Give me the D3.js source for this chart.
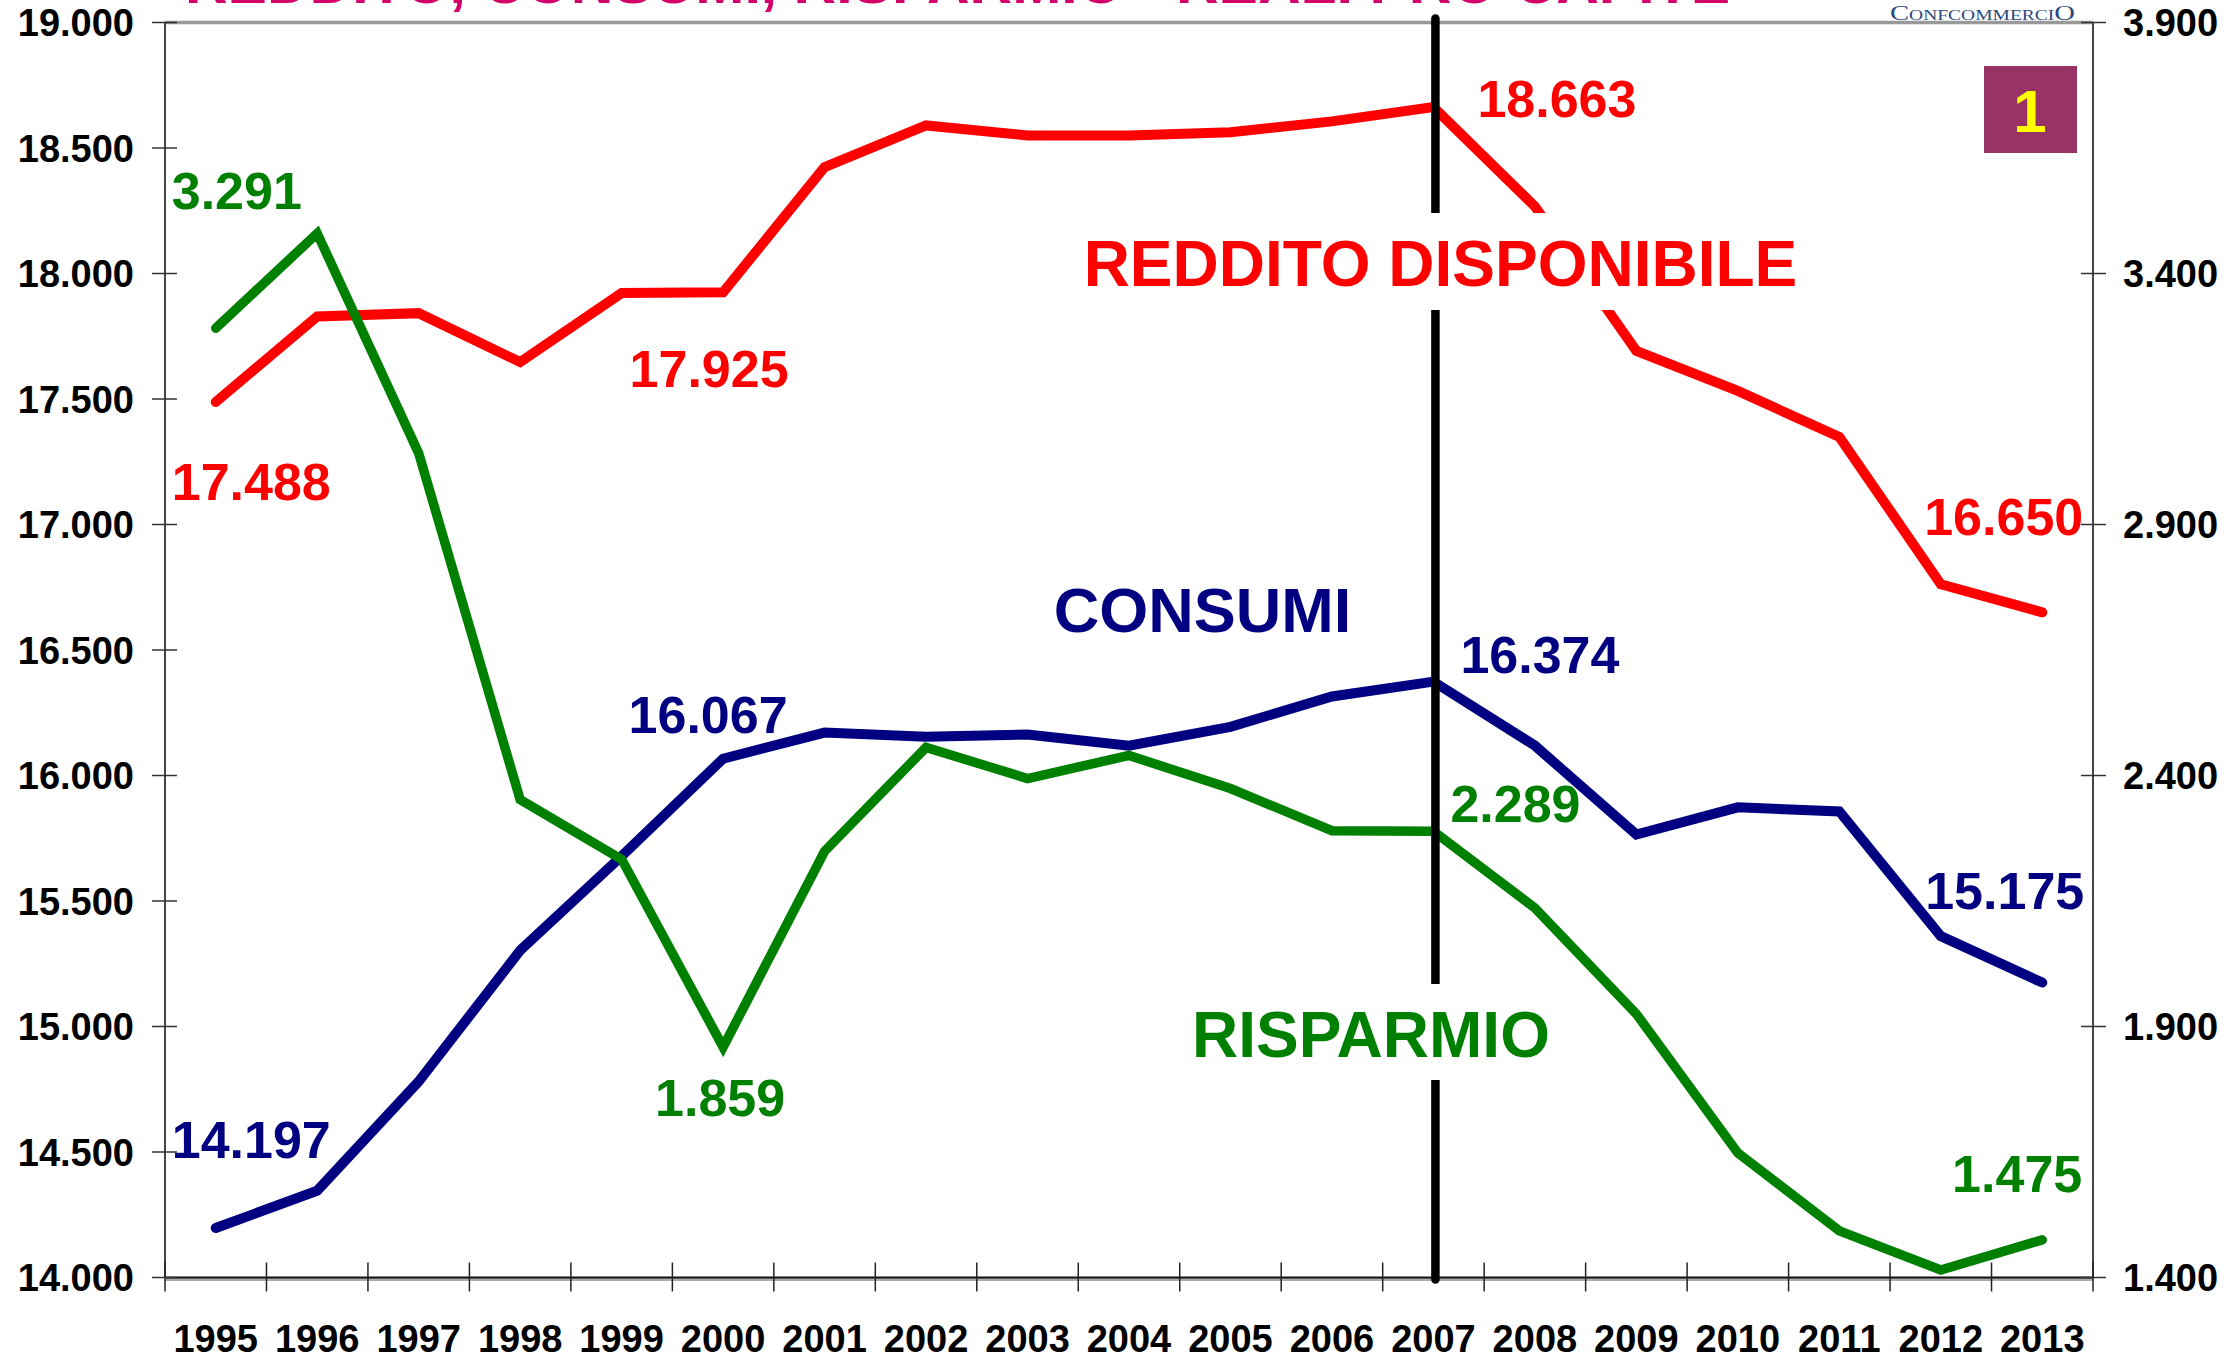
<!DOCTYPE html>
<html>
<head>
<meta charset="utf-8">
<script src="https://cdn.jsdelivr.net/npm/d3@7"></script>
<style>
  body { margin: 0; background: #fff; }
  text { font-family: "Liberation Sans", Arial, sans-serif; font-weight: bold; }
</style>
</head>
<body>
<svg id="chart" width="2234" height="1359"></svg>
<script>
// values (reddito/consumi on left axis, risparmio on right axis)
const years = ["1995", "1996", "1997", "1998", "1999", "2000", "2001", "2002", "2003", "2004",
  "2005", "2006", "2007", "2008", "2009", "2010", "2011", "2012", "2013"];
const reddito = [17488, 17829, 17842, 17647, 17922, 17925, 18424, 18590, 18550, 18550,
  18563, 18606, 18663, 18267, 17692, 17532, 17349, 16762, 16650];
const consumi = [14197, 14346, 14781, 15303, 15679, 16067, 16171, 16154, 16163, 16119,
  16194, 16315, 16374, 16119, 15765, 15873, 15857, 15360, 15175];
const risparmio = [3291, 3480, 3042, 2352, 2233, 1859, 2249, 2456, 2394, 2440,
  2374, 2290, 2289, 2136, 1925, 1648, 1493, 1415, 1475];
const leftTicks = [14000, 14500, 15000, 15500, 16000, 16500, 17000, 17500, 18000, 18500, 19000];
const rightTicks = [1400, 1900, 2400, 2900, 3400, 3900];

const it = d3.formatLocale({ decimal: ",", thousands: ".", grouping: [3], currency: ["€", ""] });
const fmt = it.format(",.0f");

const svg = d3.select("#chart");

let x = d3.scaleBand().domain(years).range([165, 2093]);
let xMid = (y) => x(y) + x.bandwidth() / 2;
let yL = d3.scaleLinear().domain([14000, 19000]).range([1277.5, 22.5]);
let yR = d3.scaleLinear().domain([1400, 3900]).range([1277.5, 22.5]);

// title, mostly cut off at the top of the slide
svg.append("text")
  .attr("x", 185).attr("y", 3)
  .attr("font-size", 59)
  .attr("fill", "#d4006a")
  .text("REDDITO, CONSUMI, RISPARMIO - REALI PRO CAPITE");

svg.append("text")
  .attr("x", 1890).attr("y", 20)
  .attr("textLength", 185)
  .attr("lengthAdjust", "spacingAndGlyphs")
  .style("font-family", "'Liberation Serif', serif")
  .style("font-weight", "normal")
  .style("font-variant", "small-caps")
  .attr("font-size", 22)
  .attr("fill", "#2c4a7c")
  .text("ConfcommerciO");

// frame
svg.append("line")
  .attr("x1", 165).attr("x2", 2093)
  .attr("y1", yL(19000)).attr("y2", yL(19000))
  .attr("stroke", "#999").attr("stroke-width", 3.5);
svg.append("line")
  .attr("x1", 165).attr("x2", 2093)
  .attr("y1", yL(14000) + 1.5).attr("y2", yL(14000) + 1.5)
  .attr("stroke", "#aaa").attr("stroke-width", 4);
svg.append("line")
  .attr("x1", 165).attr("x2", 2093)
  .attr("y1", yL(14000)).attr("y2", yL(14000))
  .attr("stroke", "#111").attr("stroke-width", 2);

[165, 2093].forEach((ax) => {
  svg.append("line")
    .attr("x1", ax).attr("x2", ax)
    .attr("y1", yL(19000)).attr("y2", yL(14000))
    .attr("stroke", "#444").attr("stroke-width", 2);
});

// left axis
svg.selectAll(".ltick").data(leftTicks).join("line")
  .attr("x1", 152).attr("x2", 177)
  .attr("y1", (d) => yL(d)).attr("y2", (d) => yL(d))
  .attr("stroke", "#333").attr("stroke-width", 1.5);
svg.selectAll(".llab").data(leftTicks).join("text")
  .attr("x", 134).attr("y", (d) => yL(d) + 13.5)
  .attr("text-anchor", "end")
  .attr("font-size", 38)
  .attr("fill", "#000")
  .text((d) => fmt(d));

// right axis
svg.selectAll(".rtick").data(rightTicks).join("line")
  .attr("x1", 2081).attr("x2", 2106)
  .attr("y1", (d) => yR(d)).attr("y2", (d) => yR(d))
  .attr("stroke", "#333").attr("stroke-width", 1.5);
svg.selectAll(".rlab").data(rightTicks).join("text")
  .attr("x", 2123).attr("y", (d) => yR(d) + 13.5)
  .attr("font-size", 38)
  .attr("fill", "#000")
  .text((d) => fmt(d));

// x axis: ticks on the band boundaries
let bounds = years.map((d) => x(d)).concat([x(years[years.length - 1]) + x.bandwidth()]);
svg.selectAll(".xtick").data(bounds).join("line")
  .attr("x1", (d) => d).attr("x2", (d) => d)
  .attr("y1", yL(14000) - 15).attr("y2", yL(14000) + 14)
  .attr("stroke", "#222").attr("stroke-width", 1.5);
svg.selectAll(".xlab").data(years).join("text")
  .attr("x", (d) => xMid(d)).attr("y", 1352)
  .attr("text-anchor", "middle")
  .attr("font-size", 38)
  .attr("fill", "#000")
  .text((d) => d);

// series
const series = [
  { values: reddito, scale: yL, color: "#ff0000", width: 10 },
  { values: consumi, scale: yL, color: "#000080", width: 10 },
  { values: risparmio, scale: yR, color: "#008000", width: 9.5 },
];
series.forEach((s) => {
  let line = d3.line()
    .x((d, i) => xMid(years[i]))
    .y((d) => s.scale(d));
  svg.append("path")
    .datum(s.values)
    .attr("d", line)
    .attr("fill", "none")
    .attr("stroke", s.color)
    .attr("stroke-width", s.width)
    .attr("stroke-linejoin", "miter")
    .attr("stroke-linecap", "round");
});

// 2007 marker
svg.append("line")
  .attr("x1", xMid("2007") + 2).attr("x2", xMid("2007") + 2)
  .attr("y1", yL(19000) - 4).attr("y2", yL(14000) + 2)
  .attr("stroke", "#000").attr("stroke-width", 8.5)
  .attr("stroke-linecap", "round");

// series names on white boxes
const names = [
  { text: "REDDITO DISPONIBILE", color: "#ff0000", cx: xMid("2007") + 7, base: yL(17950), size: 64, box: [1080, 213, 720, 97] },
  { text: "CONSUMI", color: "#000080", cx: xMid("2005") - 28, base: yL(16570), size: 63, box: null },
  { text: "RISPARMIO", color: "#008000", cx: xMid("2006") + 39, base: yR(1840), size: 64, box: [1185, 984, 370, 96] },
];
names.forEach((n) => {
  if (n.box) {
    svg.append("rect")
      .attr("x", n.box[0]).attr("y", n.box[1])
      .attr("width", n.box[2]).attr("height", n.box[3])
      .attr("fill", "#fff");
  }
  svg.append("text")
    .attr("x", n.cx).attr("y", n.base)
    .attr("text-anchor", "middle")
    .attr("font-size", n.size)
    .attr("fill", n.color)
    .text(n.text);
});

// value labels
const notes = [
  { s: 0, i: 0, anchor: "start", dx: -44, dy: 98 },
  { s: 0, i: 5, anchor: "middle", dx: -14, dy: 95 },
  { s: 0, i: 12, anchor: "start", dx: 44, dy: 10 },
  { s: 0, i: 18, anchor: "end", dx: 41, dy: -77 },
  { s: 1, i: 0, anchor: "start", dx: -44, dy: -70 },
  { s: 1, i: 5, anchor: "middle", dx: -15, dy: -26 },
  { s: 1, i: 12, anchor: "start", dx: 27, dy: -9 },
  { s: 1, i: 18, anchor: "end", dx: 42, dy: -74 },
  { s: 2, i: 0, anchor: "start", dx: -44, dy: -119 },
  { s: 2, i: 5, anchor: "middle", dx: -3, dy: 69 },
  { s: 2, i: 12, anchor: "start", dx: 17, dy: -9 },
  { s: 2, i: 18, anchor: "end", dx: 40, dy: -48 },
];
notes.forEach((n) => {
  let s = series[n.s];
  let v = s.values[n.i];
  svg.append("text")
    .attr("x", xMid(years[n.i]) + n.dx)
    .attr("y", s.scale(v) + n.dy)
    .attr("text-anchor", n.anchor)
    .attr("font-size", 52)
    .attr("fill", s.color)
    .text(fmt(v));
});

// slide number badge
svg.append("rect")
  .attr("x", 1984).attr("y", 66)
  .attr("width", 93).attr("height", 87)
  .attr("fill", "#993366");
svg.append("text")
  .attr("x", 2030).attr("y", 132)
  .attr("text-anchor", "middle")
  .attr("font-size", 60)
  .attr("fill", "#ffff00")
  .text("1");
</script>
</body>
</html>
